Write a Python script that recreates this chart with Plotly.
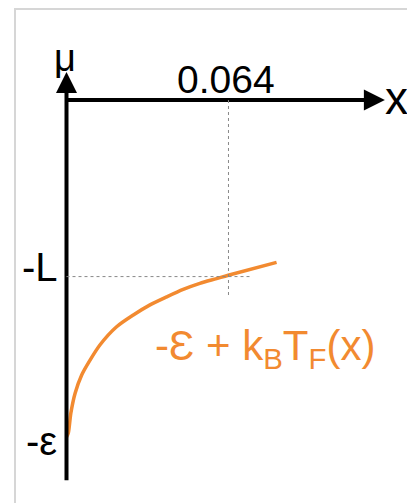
import plotly.graph_objects as go

# curve -eps + kB*TF(x) (eps = 1)
x_vals = [0.0, 0.0007, 0.0017, 0.0034, 0.0060, 0.0093, 0.0132, 0.0198, 0.0264,
          0.0330, 0.0396, 0.0461, 0.0527, 0.0593, 0.0639, 0.0830]
mu_vals = [-1.0, -0.989, -0.930, -0.870, -0.816, -0.772, -0.727, -0.673, -0.638,
           -0.608, -0.584, -0.562, -0.544, -0.530, -0.520, -0.482]

x_mark = 0.064      # marked x position
L = 0.524           # level -L
EPS = 1.0           # level -eps
x_tick_label = "0.064"
y_tick_labels = ["-L", "-ε"]
curve_label = "-Ɛ + k<sub>B</sub>T<sub>F</sub>(x)"

orange = "#F28A30"
font = "Liberation Sans, Arial, sans-serif"

# page has an 8px body margin, so the figure itself is 8px smaller
W, H = 407, 495
PX_X = 2531.0   # pixels per x unit
PX_Y = 337.0    # pixels per mu unit

fig = go.Figure()

# axes: lines plus arrow heads
fig.add_shape(type="line", x0=0, x1=0, y0=-1.128, y1=0.05,
              line=dict(color="black", width=4))
fig.add_shape(type="line", x0=0, x1=0.118, y0=0, y1=0,
              line=dict(color="black", width=4))
fig.add_trace(go.Scatter(x=[0], y=[0.083], mode="markers",
                         marker=dict(symbol="arrow-up", size=21, color="black"),
                         hoverinfo="skip"))
fig.add_trace(go.Scatter(x=[0.1258], y=[0], mode="markers",
                         marker=dict(symbol="arrow-right", size=21, color="black"),
                         hoverinfo="skip"))

fig.add_trace(go.Scatter(x=x_vals, y=mu_vals, mode="lines",
                         line=dict(color=orange, width=3.5, shape="spline", smoothing=0.8),
                         hoverinfo="skip"))

# dotted guide lines
fig.add_shape(type="line", x0=0, x1=0.0725, y0=-L, y1=-L,
              line=dict(color="#888888", width=1, dash="dot"))
fig.add_shape(type="line", x0=x_mark, x1=x_mark, y0=0, y1=-0.579,
              line=dict(color="#888888", width=1, dash="dot"))

# light frame around the drawing
fig.add_shape(type="rect", xref="paper", yref="paper",
              x0=7/W, x1=405/W, y0=-0.05, y1=1-1/H,
              line=dict(color="#d6d6d6", width=2), fillcolor="rgba(0,0,0,0)")

# labels
fig.add_annotation(x=-0.0006, y=0.1246, text="μ", showarrow=False,
                   font=dict(family=font, size=38, color="black"))
fig.add_annotation(x=0.1302, y=0.0, text="x", showarrow=False, yshift=2,
                   font=dict(family=font, size=46, color="black"))
fig.add_annotation(x=0.0632, y=0.0623, text=x_tick_label, showarrow=False,
                   font=dict(family=font, size=39, color="black"))
fig.add_annotation(x=0, y=-L, text=y_tick_labels[0], showarrow=False,
                   xanchor="right", xshift=-7, yshift=10,
                   font=dict(family=font, size=40, color="black"))
fig.add_annotation(x=0, y=-EPS, text=y_tick_labels[1], showarrow=False,
                   xanchor="right", xshift=-8, yshift=-4,
                   font=dict(family=font, size=40, color="black"))
fig.add_annotation(x=0.0784, y=-0.736, text=curve_label, showarrow=False,
                   font=dict(family=font, size=42, color=orange))

fig.update_xaxes(range=[-58.5/PX_X, (W-58.5)/PX_X], visible=False)
fig.update_yaxes(range=[-(H-92)/PX_Y, 92/PX_Y], visible=False)
fig.update_layout(width=W, height=H, margin=dict(l=0, r=0, t=0, b=0),
                  plot_bgcolor="white", paper_bgcolor="white", showlegend=False)

fig.write_html("out.html")
